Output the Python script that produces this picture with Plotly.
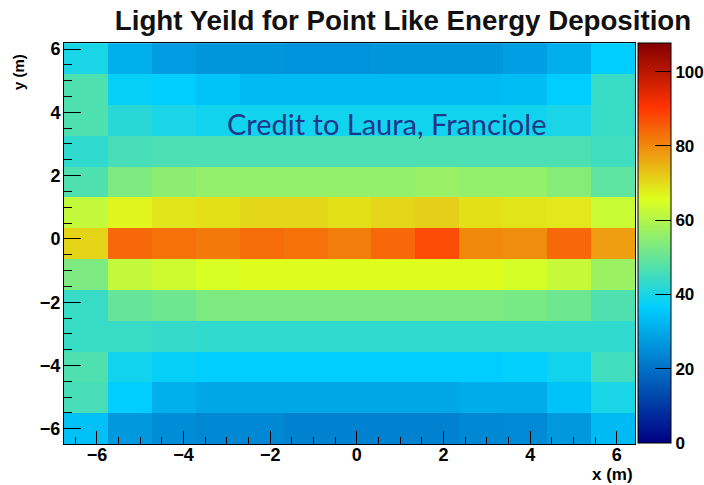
import plotly.graph_objects as go

# Bin centres (m)
x_centers = [-6.253, -5.239, -4.225, -3.212, -2.198, -1.184, -0.170,
             0.844, 1.858, 2.872, 3.885, 4.899, 5.913]
y_centers = [5.70, 4.73, 3.75, 2.78, 1.80, 0.83, -0.15,
             -1.12, -2.10, -3.07, -4.05, -5.02, -6.00]  # top -> bottom

# Light yield, rows from top (y ~ 5.7) to bottom (y ~ -6)
row_00 = [40, 31, 27.5, 26.5, 26.5, 26, 26, 26.5, 26.5, 26.5, 28, 31, 36.5]
row_01 = [47, 37.5, 36.5, 34.5, 33, 33, 33, 33, 33, 33, 33.5, 36.5, 44]
row_02 = [47, 42, 40, 39, 39, 39, 39, 39, 39, 39, 39, 40, 44]
row_03 = [43, 46, 46.5, 46.5, 46.5, 46.5, 46.5, 46.5, 46.5, 46.5, 46.5, 46.5, 45]
row_04 = [47, 53, 55, 56, 56, 56, 56, 56, 56.5, 56, 56, 54, 49]
row_05 = [62, 67, 69, 69.5, 70.5, 70.5, 69.5, 70.5, 71.5, 69.5, 69, 68.5, 63]
row_06 = [71, 84, 83, 82, 83.5, 83, 81.5, 84, 87.5, 80, 79.5, 84, 77.5]
row_07 = [53, 62, 63.5, 65, 66, 66, 66, 66, 66, 66, 64.5, 62.5, 57]
row_08 = [44, 50, 51, 53, 53, 53, 53, 53, 53, 53, 52.5, 51, 47]
row_09 = [44, 44, 43.5, 43, 43, 43, 43, 43, 43, 43, 43, 43, 43]
row_10 = [47, 39, 37.5, 36.5, 36.5, 36.5, 36.5, 36.5, 36.5, 36.5, 37, 39, 45]
row_11 = [46, 36.5, 31, 29.5, 29.5, 29.5, 29.5, 29.5, 29.5, 30.5, 30.5, 34.5, 40]
row_12 = [34, 27, 25, 24, 24, 23, 23, 23, 23, 24, 24.5, 27, 33]

rows_top_to_bottom = [row_00, row_01, row_02, row_03, row_04, row_05, row_06,
                      row_07, row_08, row_09, row_10, row_11, row_12]

x_ticks = [-6, -4, -2, 0, 2, 4, 6]
y_ticks = [-6, -4, -2, 0, 2, 4, 6]
z_ticks = [0, 20, 40, 60, 80, 100]

title_text = "Light Yeild for Point Like Energy Deposition"
credit_text = "Credit to Laura, Franciole"

# ROOT kRainBow palette
rainbow = [
    [0.00, "rgb(0,0,130)"],
    [0.34, "rgb(0,207,255)"],
    [0.61, "rgb(222,255,31)"],
    [0.84, "rgb(255,51,0)"],
    [1.00, "rgb(130,0,0)"],
]

W, H = 704, 485
L, R, T, B = 64, 69, 43, 41

bold18 = dict(family="Liberation Sans", size=18, color="black", weight="bold")

fig = go.Figure()
fig.add_trace(go.Heatmap(
    x=x_centers,
    y=y_centers[::-1],
    z=rows_top_to_bottom[::-1],
    zmin=0, zmax=107.7,
    colorscale=rainbow,
    colorbar=dict(
        x=1.0053, xanchor="left", xpad=0,
        y=1, yanchor="top", ypad=0,
        len=400, lenmode="pixels",
        thickness=33, thicknessmode="pixels",
        outlinewidth=1, outlinecolor="black",
        tickvals=z_ticks,
        ticks="inside", ticklen=16, tickcolor="black", tickwidth=1,
        tickfont=dict(family="Liberation Sans", size=17, color="black", weight="bold"),
    ),
))

fig.update_xaxes(
    range=[-6.76, 6.42], tickvals=x_ticks,
    ticks="inside", ticklen=13, tickwidth=1, tickcolor="black",
    minor=dict(dtick=0.5, tick0=0, ticks="inside", ticklen=7, tickcolor="black", tickwidth=1),
    showline=True, linecolor="black", linewidth=1, mirror=True,
    showgrid=False, zeroline=False, tickfont=bold18, ticklabelstandoff=-6,
)
fig.update_yaxes(
    range=[-6.48, 6.19], tickvals=y_ticks,
    ticks="inside", ticklen=17, tickwidth=1, tickcolor="black",
    minor=dict(dtick=0.5, tick0=0, ticks="inside", ticklen=8, tickcolor="black", tickwidth=1),
    showline=True, linecolor="black", linewidth=1, mirror=True,
    showgrid=False, zeroline=False, tickfont=bold18, ticklabelstandoff=-1,
)

pw = W - L - R
ph = H - T - B


def px_x(p):
    return (p - L) / pw


def px_y(p):
    return (H - B - p) / ph


fig.add_annotation(text="y (m)", xref="paper", yref="paper",
                   x=px_x(18), y=px_y(52), xanchor="center", yanchor="top",
                   textangle=-90, showarrow=False,
                   font=dict(family="Liberation Sans", size=15, color="black", weight="bold"))
fig.add_annotation(text="x (m)", xref="paper", yref="paper",
                   x=1.0, y=px_y(474), xanchor="right", yanchor="middle",
                   showarrow=False,
                   font=dict(family="Liberation Sans", size=17, color="black", weight="bold"))
fig.add_annotation(text=credit_text, xref="paper", yref="paper",
                   x=px_x(386), y=px_y(123), xanchor="center", yanchor="middle",
                   showarrow=False,
                   font=dict(family="Lato", size=29, color="#1c3788"))

fig.update_layout(
    width=W, height=H,
    margin=dict(l=L, r=R, t=T, b=B, autoexpand=False),
    paper_bgcolor="white", plot_bgcolor="white",
    title=dict(text=title_text, xref="container", yref="container",
               x=403 / W, xanchor="center", y=1 - 20 / H, yanchor="middle",
               font=dict(family="Liberation Sans", size=27.7, color="#111111", weight="bold")),
    showlegend=False,
)

fig.write_html("out.html", config={"displayModeBar": False},
               post_script="document.body.style.margin='0';document.body.style.padding='0';")
